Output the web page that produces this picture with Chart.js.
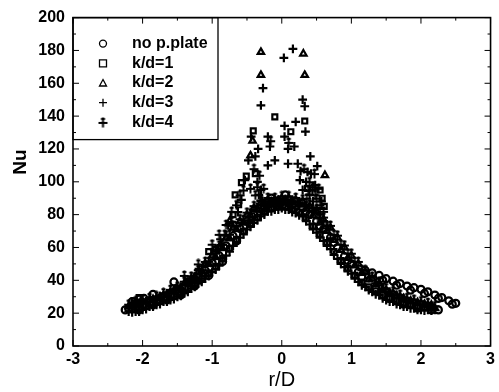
<!DOCTYPE html>
<html lang="en">
<head>
<meta charset="UTF-8">
<title>Nu vs r/D</title>
<script src="https://cdn.jsdelivr.net/npm/chart.js"></script>
<style>
  html, body { margin: 0; padding: 0; background: #fff; }
  #wrap { width: 499px; height: 392px; }
</style>
</head>
<body>
<div id="wrap"><canvas id="nuChart"></canvas></div>
<script>
// Series names as in the legend
const seriesLabels = ['no p.plate', 'k/d=1', 'k/d=2', 'k/d=3', 'k/d=4'];

// no p.plate (circles)
const noPlateR = [-2.2,-2.1,-2.0,-1.9,-1.8,-1.7,-1.6,-1.5,-1.4,-1.3,-1.2,-1.1,-1.0,-0.9,-0.8,-0.7,-0.6,-0.5,-0.4,-0.3,-0.2,-0.1,0,0.1,0.2,0.3,0.4,0.5,0.6,0.7,0.8,0.9,1.0,1.1,
  1.2,1.3,1.4,1.5,1.6,1.7,1.8,1.9,2.0,2.1,2.2,2.3,2.4,2.5, 1.45,1.65,1.85,2.05,2.25,2.45, -2.15,-2.05,-2.12,-1.98, -1.55,-1.85, 0.05,-0.15,
  -2.25,-2.05,-1.85,-1.65,-1.45,-1.25,-1.05,-0.85,-0.65,-0.45,-0.25,-0.05,0.15,0.35,0.55,0.75,0.95,1.15,1.35,1.55,1.75,1.95,2.15,2.25];
const noPlateNu = [23,24,25,26.5,27.5,29.5,31,33,35.5,38.5,42,46,50.5,55,61,67,71.5,76,80,83.5,86,86.5,87.5,87,85.5,84,80,76,71,66,60,54.5,50,45,
  46,44.5,43,41,39.5,38,36.5,35.5,34.5,33,31,29.5,27.5,26, 40,37,34,32,29,25.5, 27,28.5,25.5,29, 39,31.5, 92,90,
  22,22,25,28,31,36.5,43,51.5,64,75,84,87,86,82,73,63,52,42,35,29,25.5,23,22,22];

// k/d=1 (squares)
const kd1R = [-2.15,-2.05,-1.95,-1.85,-1.75,-1.65,-1.55,-1.45,-1.35,-1.25,-1.15,-1.05,-0.95,-0.85,-0.75,-0.65,-0.55,-0.45,-0.35,-0.25,-0.15,-0.05,
  0.05,0.15,0.25,0.35,0.45,0.55,0.65,0.75,0.85,0.95,1.05,1.15,1.25,1.35,1.45,1.55,1.65,1.75,1.85,1.95,2.05,2.15,
  -2.05,-2.12,-1.34,-1.26,-1.19,-1.05,-0.95,-0.7,-0.67,-0.62,-0.58,-0.51,-0.38,-0.41,-0.1,0.13,0.33,0.37,0.55,0.58,0.61];
const kd1Nu = [22.5,23,24.5,26,27.5,29,30.5,32.5,35,38,41,44.5,48.5,53.5,59.5,65,70,74.5,78.5,82,84,85,
  85,83.5,81.5,78,73,68,63,57.5,52,47.5,43,39,36,33.5,31,29,27.5,26,25,24,23.5,23.5,
  29.5,27.5,39.5,41,42.5,57.5,59,80,92,86,99.5,103.5,105,131,139.5,130.5,137,96,95,90,85];

// k/d=2 (triangles)
const kd2R = [-2.2,-2.1,-2.0,-1.9,-1.8,-1.7,-1.6,-1.5,-1.4,-1.3,-1.2,-1.1,-1.0,-0.9,-0.8,-0.7,-0.6,-0.5,-0.4,-0.3,-0.2,-0.1,0,0.1,0.2,0.3,0.4,0.5,0.6,0.7,0.8,0.9,1.0,1.1,1.2,1.3,1.4,1.5,1.6,1.7,1.8,1.9,2.0,2.1,2.2,
  -0.3,0.31,-0.3,0.33,-0.42,-0.45,0.62,-0.75,-1.1,
  -2.15,-2.05,-1.95,-1.85,-1.75,-1.65,-1.55,-1.45,-1.35,-1.25,-1.15,-1.05,-0.95,-0.85,-0.75,-0.65,-0.55,-0.45,-0.35,-0.25,-0.15,-0.05,
  0.05,0.15,0.25,0.35,0.45,0.55,0.65,0.75,0.85,0.95,1.05,1.15,1.25,1.35,1.45,1.55,1.65,1.75,1.85,1.95,2.05,2.15];
const kd2Nu = [24,26,27,28,29,31,33,35,38,41,45,50,55,60,66,72,76,80,84,87,89,89,90,90,89,88,85,82,77,72,66,60,55,50,45,41,38,34,32,30,28,27,26,25,23,
  179,178,165,165,125,116,104,76,50,
  25,26,27,28.5,30,31.5,33.5,35.5,38.5,42,45.5,50,54,59.5,65.5,71,75,79.5,83,86,87.5,88.5,
  88.5,87.5,86,83.5,79.5,75,70,64.5,58.5,53.5,49,44.5,40.5,37.5,34.5,32,30.5,29,27.5,26.5,25.5,25];

// k/d=3 (plus)
const kd3R = [-2.2,-2.1,-2.0,-1.9,-1.8,-1.7,-1.6,-1.5,-1.4,-1.3,-1.2,-1.1,-1.0,-0.9,-0.8,-0.7,-0.6,-0.5,-0.4,-0.3,-0.2,-0.1,0,0.1,0.2,0.3,0.4,0.5,0.6,0.7,0.8,0.9,1.0,1.1,1.2,1.3,1.4,1.5,1.6,1.7,1.8,1.9,2.0,2.1,2.2,
  0.03,0.16,-0.3,-0.27,0.3,0.33,0.34,0.04,0.2,-0.17,0.18,-0.38,-0.1,0.09,0.41,0.27,0.26,0.51,0.48,-0.3,-0.44,-0.2,0.04,-0.34,0.09,-0.2,0.23,
  -0.88,-0.77,-0.87,-1.19,-0.48,-0.53,-0.58,-0.63,-0.35,-0.33,-0.28,0.35,0.4,0.45,0.5,0.55,0.6,0.42, 0.57,0.44,0.37,0.3,
  -2.15,-2.05,-1.95,-1.85,-1.75,-1.65,-1.55,-1.45,-1.35,-1.25,-1.15,-1.05,-0.95,-0.85,-0.75,-0.65,-0.55,-0.45,-0.35,-0.25,-0.15,-0.05,
  0.05,0.15,0.25,0.35,0.45,0.55,0.65,0.75,0.85,0.95,1.05,1.15,1.25,1.35,1.45,1.55,1.65,1.75,1.85,1.95,2.05,2.15];
const kd3Nu = [21,21,22,24,25,27,28,30,32,35,38,41,45,49,55,61,66,71,75,79,82,83,84,83,81,79,74,69,64,59,53,48,44,39,36,33,31,28,27,25,24,23,22,22,22,
  175.5,181,146.5,157,150,146,130.5,134,136.5,121.5,121.5,115.5,113,111,115.5,106.5,101,109.5,98,95,127.5,127.5,127.5,120,120,110,111,
  65,73.5,61.5,47,113,101,89,81.5,100,92,88,100,92,88,84,80,76,105, 88,95,106,95,
  20.5,21,22.5,24,25.5,27,28.5,30.5,33,36,39,42.5,46.5,51.5,57.5,63,68,72.5,76.5,80,82,83,
  83,81.5,79.5,76,71,66,61,55.5,50,45.5,41,37,34,31.5,29,27,25.5,24,23,22,21.5,21.5];

// k/d=4 (plus with bar)
const kd4R = [-2.15,-2.05,-1.95,-1.85,-1.75,-1.65,-1.55,-1.45,-1.35,-1.25,-1.15,-1.05,-0.95,-0.85,-0.75,-0.65,-0.55,-0.45,-0.35,-0.25,-0.15,-0.05,
  0.05,0.15,0.25,0.35,0.45,0.55,0.65,0.75,0.85,0.95,1.05,1.15,1.25,1.35,1.45,1.55,1.65,1.75,1.85,1.95,2.05,2.15,
  -0.35,-0.3,0.38,0.45,0.5,0.55,0.6,0.47,-0.4,-0.16,0.1,-0.95,-0.82,-0.72,-1.1,-1.3,-0.6,0.65,0.7,
  0.32,0.36,0.43,0.52,0.58,0.48,0.4,0.53,-0.38,-0.26,-0.32,-0.45,-0.55,-0.65,-0.72,-0.8,-0.9,-1.0,-1.2,-1.4,
  -2.2,-2.1,-2.0,-1.9,-1.8,-1.7,-1.6,-1.5,-1.4,-1.3,-1.2,-1.1,-1.0,-0.9,-0.8,-0.7,-0.6,-0.5,-0.4,-0.3,-0.2,-0.1,0,0.1,0.2,0.3,0.4,0.5,0.6,0.7,0.8,0.9,1.0,1.1,1.2,1.3,1.4,1.5,1.6,1.7,1.8,1.9,2.0,2.1,2.2];
const kd4Nu = [24,25.5,26.5,27.5,29,31,33,35.5,38.5,42,46.5,51.5,56.5,62,68,73,77,81,84.5,87,88,88.5,
  89,88.5,87.5,85.5,82.5,78.5,73.5,68,62,56.5,51.5,46.5,42,38.5,35,32,30,28,26.5,25.5,24.5,23,
  97,89,95,97,90,86,82,105,108,125,124,58,68,76,49,40.5,92,72,66,
  108,90,82,78,70,92,100,96,92,96,104,96,95,86,82,74,68,62,50,43,
  25.5,27.5,28.5,29.5,30.5,32.5,34.5,36.5,39.5,42.5,46.5,51.5,56.5,61.5,67.5,73.5,77.5,81.5,85.5,88.5,90.5,90.5,91.5,91.5,90.5,89.5,86.5,83.5,78.5,73.5,67.5,61.5,56.5,51.5,46.5,42.5,39.5,35.5,33.5,31.5,29.5,28.5,27.5,26.5,24.5];

const FONT = '"Liberation Sans", Arial, sans-serif';

// marker for k/d=4: plus with a short bar on top
const kd4Mark = document.createElement('canvas');
kd4Mark.width = 11; kd4Mark.height = 11;
(function () {
  const c = kd4Mark.getContext('2d');
  c.strokeStyle = '#000'; c.lineWidth = 2;
  c.beginPath();
  c.moveTo(5.5, 0.5); c.lineTo(5.5, 10.5);
  c.moveTo(1, 6); c.lineTo(10, 6);
  c.moveTo(3.5, 2); c.lineTo(7.5, 2);
  c.stroke();
})();

function pts(rs, nus) { return rs.map((r, i) => ({ x: r, y: nus[i] })); }

const styles = ['circle', 'rect', 'triangle', 'cross', kd4Mark];
const radii = [3.5, 3.5, 3.7, 4.4, 5];
const allR = [noPlateR, kd1R, kd2R, kd3R, kd4R];
const allNu = [noPlateNu, kd1Nu, kd2Nu, kd3Nu, kd4Nu];

const datasets = seriesLabels.map((label, i) => ({
  label: label,
  data: pts(allR[i], allNu[i]),
  pointStyle: styles[i],
  pointRadius: radii[i],
  pointBorderWidth: 2.2,
  borderColor: '#000',
  backgroundColor: 'rgba(0,0,0,0)',
  showLine: false
}));

// inward ticks on all four sides + frame
const frameTicks = {
  id: 'frameTicks',
  afterDraw(chart) {
    const { ctx, chartArea: a } = chart;
    const xs = chart.scales.x, ys = chart.scales.y;
    ctx.save();
    ctx.strokeStyle = '#000';
    ctx.lineWidth = 1;
    ctx.beginPath();
    const xt = xs.ticks.map(t => t.value);
    xt.forEach((v, i) => {
      const p = xs.getPixelForValue(v);
      ctx.moveTo(p, a.bottom); ctx.lineTo(p, a.bottom - 6);
      ctx.moveTo(p, a.top); ctx.lineTo(p, a.top + 6);
      if (i < xt.length - 1) {
        const m = xs.getPixelForValue((v + xt[i + 1]) / 2);
        ctx.moveTo(m, a.bottom); ctx.lineTo(m, a.bottom - 3);
        ctx.moveTo(m, a.top); ctx.lineTo(m, a.top + 3);
      }
    });
    const yt = ys.ticks.map(t => t.value);
    yt.forEach((v, i) => {
      const p = ys.getPixelForValue(v);
      ctx.moveTo(a.left, p); ctx.lineTo(a.left + 6, p);
      ctx.moveTo(a.right, p); ctx.lineTo(a.right - 6, p);
      if (i < yt.length - 1) {
        const m = ys.getPixelForValue((v + yt[i + 1]) / 2);
        ctx.moveTo(a.left, m); ctx.lineTo(a.left + 3, m);
        ctx.moveTo(a.right, m); ctx.lineTo(a.right - 3, m);
      }
    });
    ctx.stroke();
    ctx.lineWidth = 1.6;
    ctx.strokeRect(a.left, a.top, a.right - a.left, a.bottom - a.top);

    // y axis title
    ctx.fillStyle = '#000';
    ctx.font = 'bold 19px ' + FONT;
    ctx.textAlign = 'center';
    ctx.textBaseline = 'middle';
    ctx.translate(21, 162);
    ctx.rotate(-Math.PI / 2);
    ctx.fillText('Nu', 0, 0);
    ctx.restore();
  }
};

// boxed legend in the top-left corner of the plot
const boxLegend = {
  id: 'boxLegend',
  afterDatasetsDraw(chart) {
    const { ctx, chartArea: a } = chart;
    ctx.save();
    ctx.fillStyle = '#fff';
    ctx.fillRect(a.left, a.top, 145, 122);
    ctx.strokeStyle = '#000';
    ctx.lineWidth = 1.3;
    ctx.strokeRect(a.left, a.top, 145, 122);
    ctx.font = 'bold 16px ' + FONT;
    ctx.textAlign = 'left';
    ctx.textBaseline = 'middle';
    ctx.fillStyle = '#000';
    ctx.lineWidth = 1.3;
    seriesLabels.forEach((label, i) => {
      const y = a.top + 26 + i * 19.7;
      const x = a.left + 30;
      ctx.beginPath();
      if (i === 0) ctx.arc(x, y, 3.5, 0, Math.PI * 2);
      else if (i === 1) ctx.rect(x - 3.5, y - 3.5, 7, 7);
      else if (i === 2) { ctx.moveTo(x, y - 3.5); ctx.lineTo(x + 3.5, y + 3); ctx.lineTo(x - 3.5, y + 3); ctx.closePath(); }
      else if (i === 3) { ctx.moveTo(x - 4, y); ctx.lineTo(x + 4, y); ctx.moveTo(x, y - 4); ctx.lineTo(x, y + 4); }
      if (i < 4) ctx.stroke();
      else ctx.drawImage(kd4Mark, x - 5.5, y - 5.5);
      ctx.fillText(label, a.left + 59, y);
    });
    ctx.restore();
  }
};

new Chart(document.getElementById('nuChart'), {
  type: 'scatter',
  data: { datasets: datasets },
  options: {
    responsive: true,
    maintainAspectRatio: false,
    animation: false,
    layout: { padding: { top: 12, right: 4, left: 0, bottom: 0 } },
    plugins: {
      legend: { display: false },
      tooltip: { enabled: false }
    },
    scales: {
      x: {
        type: 'linear', min: -3, max: 3,
        ticks: { stepSize: 1, color: '#000', padding: 4, font: { family: FONT, size: 16, weight: 'bold' } },
        grid: { display: false, drawTicks: false },
        border: { display: false },
        title: { display: true, text: 'r/D', color: '#000', padding: { top: 0, bottom: 0 }, font: { family: FONT, size: 20 } },
        afterFit: s => { s.height = 46; }
      },
      y: {
        type: 'linear', min: 0, max: 200,
        ticks: { stepSize: 20, color: '#000', padding: 8, font: { family: FONT, size: 16, weight: 'bold' } },
        grid: { display: false, drawTicks: false },
        border: { display: false },
        afterFit: s => { s.width = 73; }
      }
    }
  },
  plugins: [frameTicks, boxLegend]
});
</script>
</body>
</html>
